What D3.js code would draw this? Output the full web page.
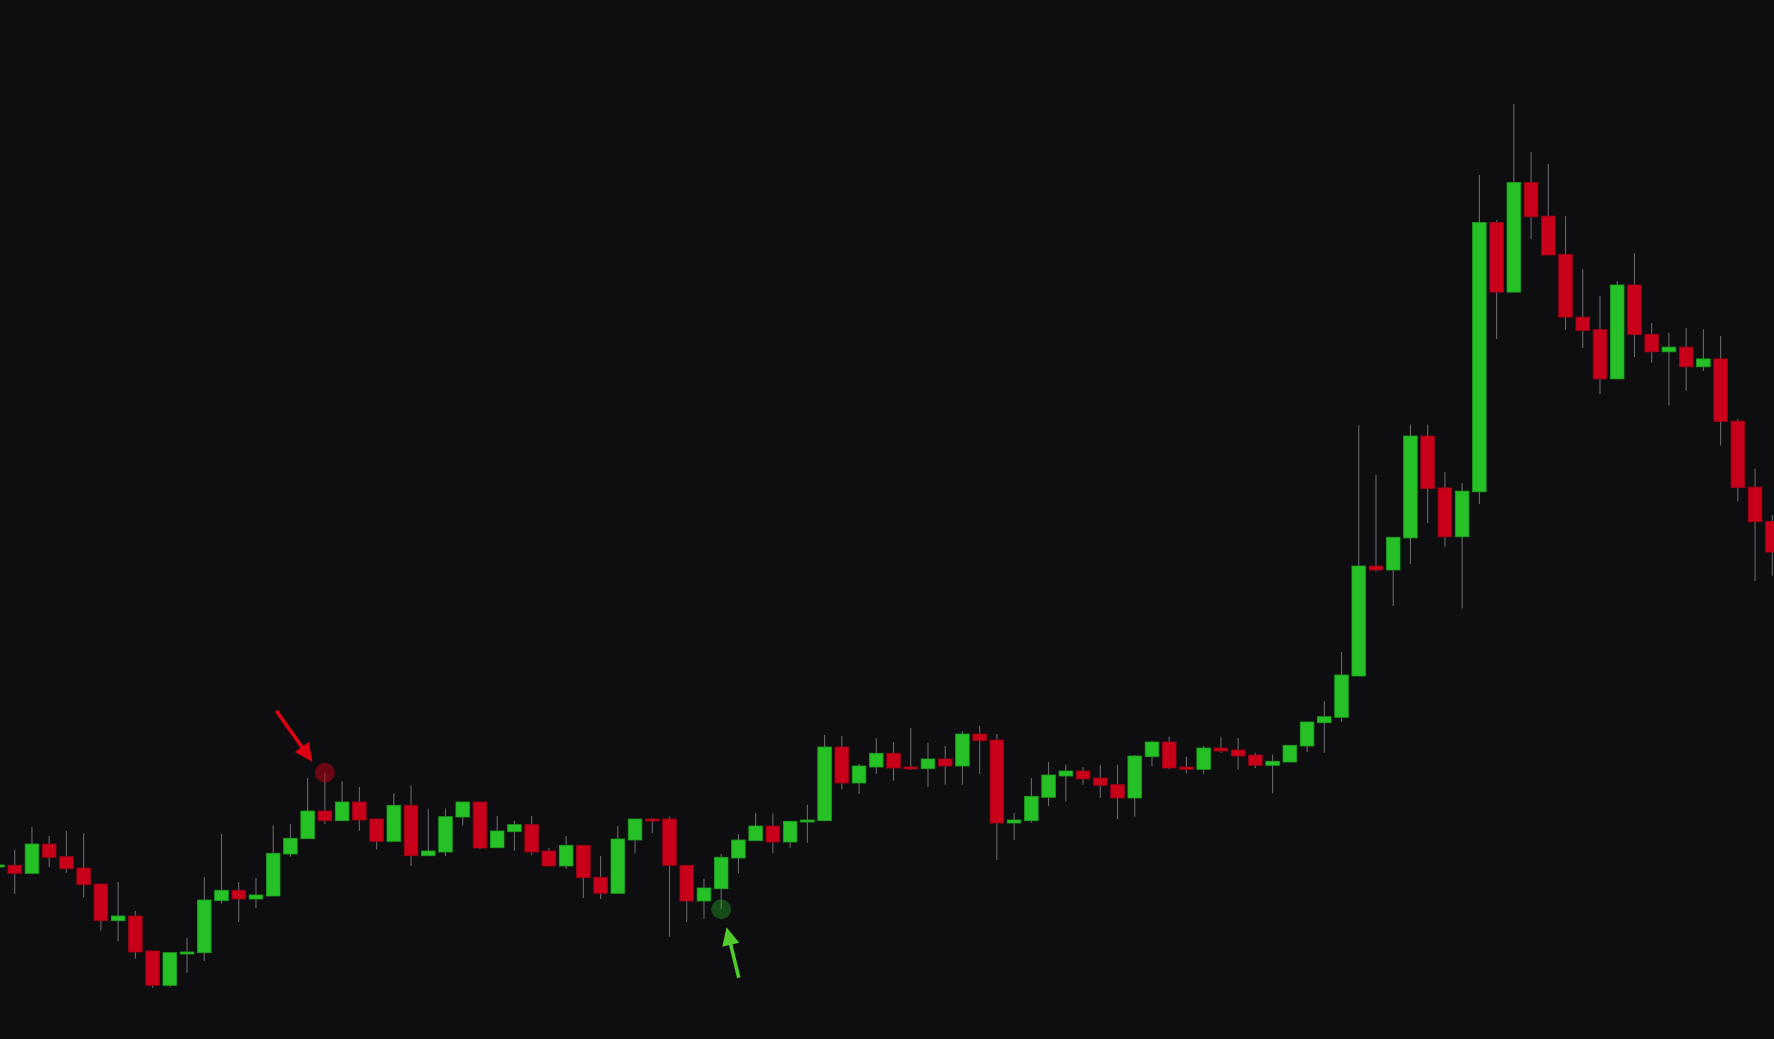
<!DOCTYPE html>
<html>
<head>
<meta charset="utf-8">
<script src="https://cdn.jsdelivr.net/npm/d3@7"></script>
<style>
  html, body { margin: 0; padding: 0; background: #0e0e10; overflow: hidden; }
  svg { display: block; }
</style>
</head>
<body>
<div id="chart"></div>
<script>
// candle prices, one entry per bar (first bar is cut by the left edge)
var opens = [117.3, 117.37, 116.57, 119.5, 118.23, 117.1, 115.5, 111.83, 112.3, 108.8, 105.37, 108.63, 108.63, 113.83, 114.87, 114.0,
  114.3, 118.5, 120.03, 122.8, 121.83, 123.7, 122.0, 119.77, 123.37, 118.33, 118.7, 122.2, 123.7, 119.13, 120.73, 121.43,
  118.8, 117.3, 119.37, 116.17, 114.57, 119.9, 122.0, 122.0, 117.37, 113.8, 115.03, 118.1, 119.83, 121.3, 119.7, 121.73,
  121.83, 129.2, 125.6, 127.2, 128.57, 127.2, 127.03, 128.0, 127.3, 130.5, 129.9, 121.6, 121.83, 124.17, 126.3, 126.8,
  126.1, 125.43, 124.1, 128.23, 129.7, 127.2, 126.97, 129.1, 128.9, 128.4, 127.37, 127.7, 129.3, 131.63, 132.17, 136.3,
  147.3, 146.9, 150.11, 160.3, 155.11, 150.22, 154.72, 181.65, 174.69, 185.65, 182.29, 178.47, 172.19, 170.94, 166.01, 175.4,
  170.47, 168.72, 169.19, 167.22, 168.01, 161.79, 155.19, 151.76];
var highs = [117.7, 118.9, 121.2, 120.3, 120.8, 120.57, 115.5, 115.7, 112.8, 108.8, 108.63, 110.1, 116.17, 120.5, 115.7, 116.1,
  121.37, 121.5, 126.1, 126.63, 125.77, 125.2, 122.0, 124.57, 125.37, 123.03, 123.03, 123.7, 123.7, 122.3, 121.83, 122.3,
  119.1, 120.3, 119.37, 118.3, 121.3, 122.0, 122.1, 122.23, 117.4, 116.0, 118.5, 120.5, 122.63, 122.57, 121.77, 123.43,
  130.4, 130.3, 127.5, 130.07, 129.7, 131.1, 129.6, 129.3, 130.8, 131.3, 130.5, 122.63, 126.1, 127.7, 127.4, 127.2,
  127.43, 127.43, 128.4, 129.83, 130.23, 128.23, 129.3, 130.23, 130.1, 128.63, 128.43, 129.37, 131.7, 133.77, 138.7, 161.37,
  156.4, 150.17, 161.44, 161.44, 156.69, 155.61, 186.4, 181.9, 193.51, 188.69, 187.51, 182.29, 176.97, 174.29, 175.79, 178.58,
  171.61, 170.61, 171.11, 170.97, 170.29, 162.01, 157.04, 152.4];
var lows = [117.0, 114.53, 116.5, 117.2, 116.63, 114.17, 110.83, 109.77, 108.03, 105.13, 105.23, 106.63, 107.8, 113.53, 111.7, 113.1,
  114.3, 118.23, 120.03, 121.5, 121.83, 120.83, 118.97, 119.77, 117.3, 118.33, 118.3, 121.37, 119.0, 119.13, 118.83, 118.4,
  117.3, 117.03, 114.1, 114.0, 114.57, 118.57, 120.57, 110.23, 111.7, 112.0, 112.97, 116.57, 119.83, 118.57, 119.13, 119.63,
  121.83, 124.97, 124.5, 126.5, 125.83, 126.9, 125.2, 125.43, 125.43, 126.5, 117.9, 119.9, 121.63, 123.3, 123.77, 125.43,
  124.1, 122.0, 122.23, 127.3, 126.97, 126.57, 126.5, 128.63, 126.97, 127.1, 124.57, 127.7, 128.7, 128.63, 131.7, 136.3,
  146.73, 143.3, 147.51, 151.61, 149.22, 143.04, 153.51, 170.01, 174.69, 180.01, 178.4, 170.94, 169.11, 164.51, 166.01, 168.19,
  167.65, 163.36, 164.83, 166.79, 159.36, 153.76, 145.79, 146.33];
var closes = [117.4, 116.57, 119.5, 118.17, 117.03, 115.43, 111.83, 112.3, 108.7, 105.37, 108.63, 108.7, 113.9, 114.87, 114.0, 114.4,
  118.57, 120.07, 122.8, 121.83, 123.7, 121.9, 119.77, 123.37, 118.33, 118.8, 122.23, 123.7, 119.1, 120.8, 121.43, 118.7,
  117.3, 119.37, 116.13, 114.57, 120.0, 122.0, 121.93, 117.37, 113.8, 115.1, 118.17, 119.9, 121.3, 119.7, 121.77, 121.9,
  129.2, 125.6, 127.3, 128.57, 127.1, 127.03, 128.0, 127.3, 130.5, 129.83, 121.6, 121.9, 124.27, 126.4, 126.8, 126.0,
  125.37, 124.1, 128.3, 129.7, 127.1, 126.97, 129.1, 128.8, 128.3, 127.37, 127.77, 129.37, 131.7, 132.23, 136.4, 147.3,
  146.9, 150.17, 160.3, 155.04, 150.22, 154.79, 181.65, 174.69, 185.65, 182.22, 178.4, 172.19, 170.86, 166.01, 175.4, 170.44,
  168.72, 169.19, 167.22, 168.01, 161.76, 155.15, 151.72, 148.69];

// marked bars: index into the arrays above, and which extreme is marked
var markIndex = [19, 42];
var markSide = ["high", "low"];

var W = 1774, H = 1039;
var bg = "#0e0e10";
var upColor = "#26c126", downColor = "#c8001a";

var candles = opens.map(function (o, i) {
  return { i: i, o: o, h: highs[i], l: lows[i], c: closes[i] };
});

var x = d3.scaleLinear().domain([0, candles.length - 1]).range([-2.5, 1772.3]);
var y = d3.scaleLinear().domain([100, 203.9]).range([H, 0]);
var bodyW = 13.6;

var svg = d3.select("#chart").append("svg").attr("width", W).attr("height", H);
svg.append("rect").attr("width", W).attr("height", H).attr("fill", bg);

var g = svg.append("g");

// wicks
g.selectAll(".wick").data(candles).enter().append("line")
  .attr("class", "wick")
  .attr("x1", function (d) { return x(d.i); })
  .attr("x2", function (d) { return x(d.i); })
  .attr("y1", function (d) { return y(d.h); })
  .attr("y2", function (d) { return y(d.l); })
  .attr("stroke", "#66666d")
  .attr("stroke-width", 1.1);

// bodies
g.selectAll(".body").data(candles).enter().append("rect")
  .attr("class", "body")
  .attr("x", function (d) { return x(d.i) - bodyW / 2; })
  .attr("width", bodyW)
  .attr("y", function (d) { return y(Math.max(d.o, d.c)); })
  .attr("height", function (d) { return Math.max(2, Math.abs(y(d.o) - y(d.c))); })
  .attr("fill", function (d) { return d.c >= d.o ? upColor : downColor; })
  .attr("stroke", function (d) { return d.c >= d.o ? "#1f9e1f" : "#a00016"; })
  .attr("stroke-width", 0.8);

// circles on the marked extremes
var marks = markIndex.map(function (idx, k) {
  var d = candles[idx];
  return { idx: idx, side: markSide[k], cx: x(idx), cy: y(markSide[k] === "high" ? d.h : d.l) };
});

svg.selectAll(".mark").data(marks).enter().append("circle")
  .attr("class", "mark")
  .attr("cx", function (d) { return d.cx; })
  .attr("cy", function (d) { return d.cy; })
  .attr("r", 10)
  .attr("fill", function (d) { return d.side === "high" ? "rgba(200,0,22,0.5)" : "rgba(38,193,38,0.34)"; });

// arrows pointing at the circles
function arrow(tx, ty, hx, hy, color) {
  var dx = hx - tx, dy = hy - ty;
  var len = Math.sqrt(dx * dx + dy * dy);
  var ux = dx / len, uy = dy / len;
  var headL = 18, headW = 8.7;
  var bx = hx - ux * headL, by = hy - uy * headL;
  svg.append("line")
    .attr("x1", tx).attr("y1", ty).attr("x2", bx + ux * 2).attr("y2", by + uy * 2)
    .attr("stroke", color).attr("stroke-width", 3.6);
  svg.append("path")
    .attr("d", "M" + hx + "," + hy +
      "L" + (bx - uy * headW) + "," + (by + ux * headW) +
      "L" + (bx + uy * headW) + "," + (by - ux * headW) + "Z")
    .attr("fill", color);
}

marks.forEach(function (m) {
  if (m.side === "high") {
    arrow(m.cx - 48.6, m.cy - 62, m.cx - 12.6, m.cy - 11, "#dc0012");
  } else {
    arrow(m.cx + 17.6, m.cy + 68.4, m.cx + 5.3, m.cy + 18, "#4fcb2d");
  }
});
</script>
</body>
</html>
